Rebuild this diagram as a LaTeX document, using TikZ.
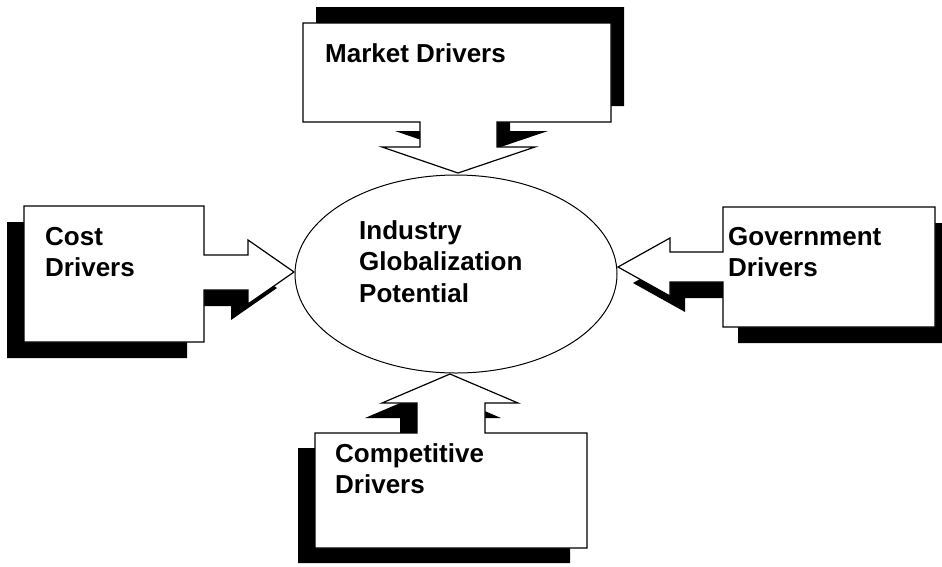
\documentclass[tikz,border=0pt]{standalone}
\usepackage{fontspec}
\setmainfont{Liberation Sans}
\usepackage{tikz}
\usetikzlibrary{shapes.geometric}

\tikzset{
  callout/.style={draw=black, fill=white, line width=1.2pt, line join=miter},
  calloutshadow/.style={fill=black},
  drivertext/.style={anchor=north west, inner sep=0pt, align=left,
    font=\fontsize{26}{31.5}\selectfont\bfseries},
}

\begin{document}
\begin{tikzpicture}[x=1pt, y=-1pt]
\useasboundingbox (0,0) rectangle (942,566);

% OUTLINES of the callouts
\def\marketshape{(303,23) -- (611,23) -- (611,122) -- (497,122) -- (497,147) -- (535,147)
  -- (458,173) -- (382,147) -- (420,147) -- (420,122) -- (303,122) -- cycle}
\def\costshape{(24,206) -- (204,206) -- (204,255) -- (248,255) -- (248,240) -- (294,272)
  -- (248,304) -- (248,290) -- (204,290) -- (204,342) -- (24,342) -- cycle}
\def\govshape{(723,207) -- (935,207) -- (935,327) -- (723,327) -- (723,282) -- (670,282)
  -- (670,296) -- (618,267) -- (670,238) -- (670,252) -- (723,252) -- cycle}
\def\compshape{(315,433) -- (417,433) -- (417,403) -- (382,403) -- (450,374) -- (518,403)
  -- (485,403) -- (485,433) -- (587,433) -- (587,548) -- (315,548) -- cycle}

% Shadows
  \fill[calloutshadow, shift={(13,-16)}] \marketshape;
  \fill[calloutshadow, shift={(-17,16)}] \costshape;
  \fill[calloutshadow, shift={(15,16)}] \govshape;
  \fill[calloutshadow, shift={(-17,15)}] \compshape;

% Callouts
  \draw[callout] \marketshape;
  \draw[callout] \costshape;
  \draw[callout] \govshape;
  \draw[callout] \compshape;

% Centre ellipse
  \node[draw=black, line width=1pt, ellipse, inner sep=0pt,
    minimum width=322pt, minimum height=198pt] (igp) at (456,274) {};
  \node[drivertext] (igptext) at (359,220) {Industry\\Globalization\\Potential};

% Driver labels
  \node[drivertext] (market) at (325,43) {Market Drivers};
  \node[drivertext] (cost) at (45,227) {Cost\\Drivers};
  \node[drivertext] (gov) at (728,227) {Government\\Drivers};
  \node[drivertext] (comp) at (335,443) {Competitive\\Drivers};

\end{tikzpicture}
\end{document}
